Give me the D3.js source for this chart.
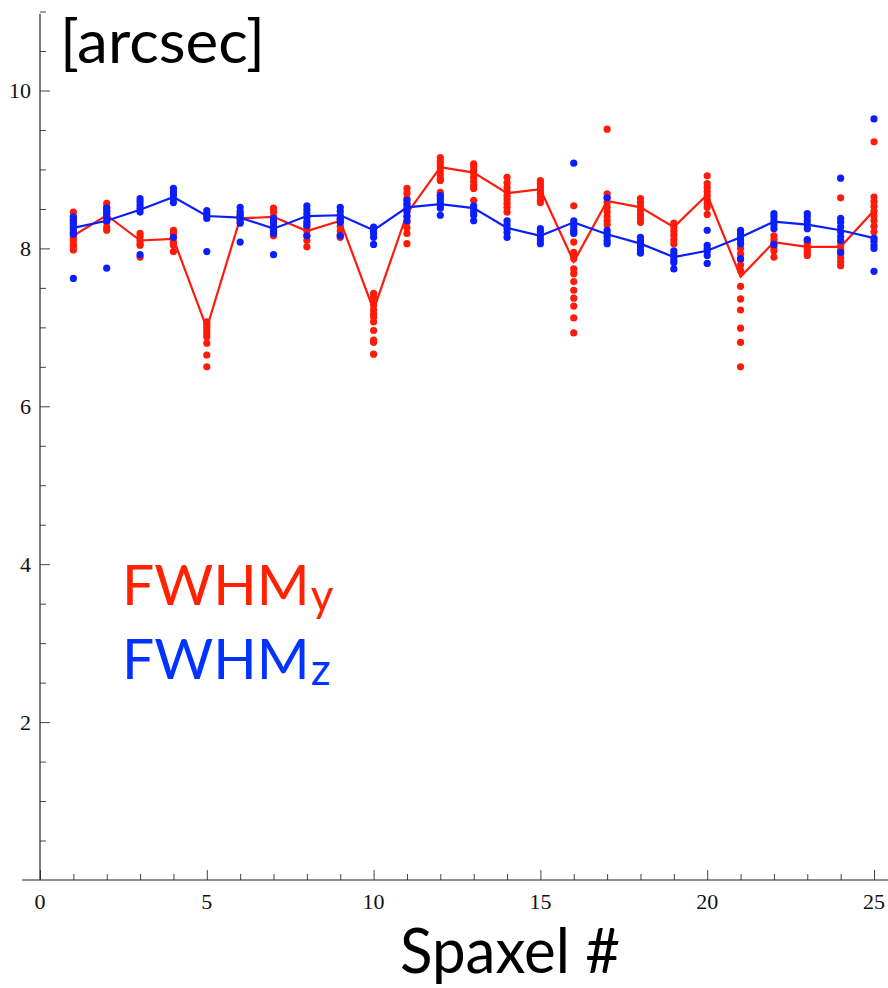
<!DOCTYPE html>
<html>
<head>
<meta charset="utf-8">
<script src="https://cdn.jsdelivr.net/npm/d3@7"></script>
<style>
html,body{margin:0;padding:0;background:#fff;}
svg{display:block;}
</style>
</head>
<body>
<svg id="chart" width="888" height="988"></svg>
<script>
// ---------- data ----------
const spaxels = d3.range(1, 26);

// FWHM_y (red) mean line
const meanY = [8.16, 8.42, 8.10, 8.12, 6.99, 8.38, 8.40, 8.22, 8.35, 7.22,
               8.44, 9.03, 8.96, 8.70, 8.75, 7.83, 8.60, 8.52, 8.27, 8.68,
               7.64, 8.08, 8.02, 8.02, 8.48];
// FWHM_z (blue) mean line
const meanZ = [8.26, 8.35, 8.49, 8.65, 8.41, 8.39, 8.25, 8.41, 8.42, 8.23,
               8.52, 8.56, 8.51, 8.26, 8.16, 8.33, 8.18, 8.06, 7.89, 7.97,
               8.14, 8.34, 8.30, 8.23, 8.13];

// individual FWHM_y measurements per spaxel
const pointsY = [
  [8.46, 8.40, 8.36, 8.33, 8.25, 8.18, 8.14, 8.10, 8.05, 8.02, 7.98],
  [8.57, 8.52, 8.47, 8.44, 8.40, 8.33, 8.27, 8.23],
  [8.19, 8.15, 8.10, 8.06, 8.04, 7.89],
  [8.23, 8.19, 8.14, 8.08, 8.04, 7.96],
  [7.07, 7.04, 7.00, 6.96, 6.92, 6.88, 6.80, 6.65, 6.50],
  [8.44, 8.40, 8.37, 8.33],
  [8.51, 8.46, 8.40, 8.34, 8.27, 8.21, 8.16],
  [8.32, 8.27, 8.22, 8.16, 8.10, 8.02],
  [8.38, 8.33, 8.28, 8.22, 8.17, 8.14],
  [7.43, 7.38, 7.33, 7.28, 7.22, 7.17, 7.13, 7.07, 6.96, 6.84, 6.81, 6.66],
  [8.76, 8.70, 8.63, 8.56, 8.48, 8.40, 8.33, 8.26, 8.19, 8.06],
  [9.15, 9.11, 9.07, 9.03, 8.98, 8.93, 8.88, 8.86, 8.71, 8.67],
  [9.07, 9.03, 8.99, 8.95, 8.90, 8.85, 8.80, 8.76, 8.61],
  [8.90, 8.83, 8.77, 8.72, 8.67, 8.62, 8.57, 8.52, 8.46],
  [8.86, 8.82, 8.78, 8.74, 8.70, 8.65, 8.61, 8.58],
  [8.54, 8.21, 8.08, 7.95, 7.91, 7.87, 7.74, 7.68, 7.58, 7.47, 7.37, 7.27, 7.12, 6.93],
  [9.51, 8.69, 8.64, 8.58, 8.52, 8.46, 8.40, 8.35, 8.30],
  [8.63, 8.58, 8.53, 8.48, 8.43, 8.38, 8.33],
  [8.32, 8.27, 8.22, 8.17, 8.11, 8.06],
  [8.92, 8.82, 8.77, 8.72, 8.67, 8.62, 8.57, 8.52, 8.43],
  [8.06, 8.00, 7.93, 7.86, 7.79, 7.72, 7.52, 7.36, 7.22, 6.99, 6.81, 6.50],
  [8.16, 8.11, 8.06, 8.01, 7.97, 7.89],
  [8.10, 8.06, 8.02, 7.98, 7.94, 7.91],
  [8.64, 8.08, 8.03, 7.98, 7.93, 7.88, 7.83, 7.78],
  [9.35, 8.65, 8.59, 8.53, 8.47, 8.41, 8.35, 8.28, 8.21]
];

// individual FWHM_z measurements per spaxel
const pointsZ = [
  [8.40, 8.36, 8.32, 8.28, 8.24, 8.20, 8.18, 7.62],
  [8.51, 8.47, 8.43, 8.39, 8.35, 7.75],
  [8.63, 8.59, 8.55, 8.51, 8.46, 7.92],
  [8.76, 8.72, 8.68, 8.63, 8.58, 8.14],
  [8.48, 8.44, 8.41, 8.38, 7.96],
  [8.52, 8.47, 8.42, 8.37, 8.32, 8.08],
  [8.38, 8.33, 8.28, 8.23, 8.19, 7.92],
  [8.54, 8.49, 8.44, 8.39, 8.34, 8.29, 8.16],
  [8.52, 8.47, 8.42, 8.37, 8.33, 8.16],
  [8.27, 8.23, 8.19, 8.14, 8.05],
  [8.61, 8.56, 8.51, 8.46, 8.41, 8.35],
  [8.67, 8.63, 8.59, 8.55, 8.51, 8.42],
  [8.54, 8.50, 8.46, 8.42, 8.35],
  [8.35, 8.30, 8.25, 8.20, 8.14],
  [8.25, 8.21, 8.16, 8.11, 8.06],
  [9.08, 8.35, 8.31, 8.27, 8.23, 8.19],
  [8.64, 8.23, 8.19, 8.15, 8.10, 8.06],
  [8.14, 8.10, 8.06, 8.02, 7.98, 7.94],
  [7.97, 7.93, 7.89, 7.85, 7.82, 7.74],
  [8.23, 8.04, 8.00, 7.96, 7.91, 7.81],
  [8.23, 8.19, 8.15, 8.11, 8.06, 7.87],
  [8.44, 8.40, 8.35, 8.30, 8.25, 8.05],
  [8.44, 8.40, 8.35, 8.30, 8.25, 8.11],
  [8.89, 8.38, 8.33, 8.27, 8.21, 8.15, 8.10, 7.95],
  [9.64, 8.13, 8.09, 8.04, 8.00, 7.71]
];

const xTickLabels = [0, 5, 10, 15, 20, 25];
const yTickLabels = [2, 4, 6, 8, 10];
const xMinorTicks = d3.range(0, 26, 1);
const yMinorTicks = d3.range(0.5, 11.01, 0.5);

// ---------- drawing ----------
const RED = "#ff1a0a";
const BLUE = "#0a1eff";
const svg = d3.select("#chart");

const x = d3.scaleLinear().domain([0, 25]).range([40, 874]);
const y = d3.scaleLinear().domain([0, 10]).range([880, 90.5]);

const axisColor = "#222";
const tickColor = "#444";

// x axis: line + inward ticks
const xAxis = d3.axisTop(x).tickValues(xMinorTicks).tickSizeInner(6).tickSizeOuter(0).tickFormat("");
const gx = svg.append("g").attr("transform", `translate(0,${y(0)})`).call(xAxis);
gx.select(".domain").remove();
gx.selectAll(".tick line").attr("stroke", tickColor)
  .attr("y2", d => (d % 5 === 0 ? -10 : -6));
svg.append("line").attr("x1", 22).attr("x2", 888).attr("y1", y(0)).attr("y2", y(0))
  .attr("stroke", axisColor).attr("stroke-width", 1.2);
svg.append("g").selectAll("text").data(xTickLabels).join("text")
  .attr("x", d => x(d)).attr("y", y(0) + 29)
  .attr("text-anchor", "middle")
  .attr("font-family", "'Liberation Serif', 'DejaVu Serif', serif")
  .attr("font-size", 22).attr("fill", "#111")
  .text(d => d);

// y axis
const yAxis = d3.axisRight(y).tickValues(yMinorTicks).tickSizeInner(6).tickSizeOuter(0).tickFormat("");
const gy = svg.append("g").attr("transform", `translate(${x(0)},0)`).call(yAxis);
gy.select(".domain").remove();
gy.selectAll(".tick line").attr("stroke", tickColor)
  .attr("x2", d => (Math.abs(d % 2) < 1e-9 ? 10 : 6));
svg.append("line").attr("x1", x(0)).attr("x2", x(0)).attr("y1", y(0)).attr("y2", y(10.97))
  .attr("stroke", axisColor).attr("stroke-width", 1.2);
svg.append("g").selectAll("text").data(yTickLabels).join("text")
  .attr("x", 31).attr("y", d => y(d) + 7.5)
  .attr("text-anchor", "end")
  .attr("font-family", "'Liberation Serif', 'DejaVu Serif', serif")
  .attr("font-size", 22).attr("fill", "#111")
  .text(d => d);

// lines and points
const lineGen = d3.line().x((d, i) => x(spaxels[i])).y(d => y(d));

function flatPoints(arr) {
  const out = [];
  arr.forEach((vals, i) => vals.forEach(v => out.push({s: spaxels[i], v})));
  return out;
}

svg.append("path").datum(meanY).attr("d", lineGen)
  .attr("fill", "none").attr("stroke", RED).attr("stroke-width", 2.2);
svg.append("g").selectAll("circle").data(flatPoints(pointsY)).join("circle")
  .attr("cx", d => x(d.s)).attr("cy", d => y(d.v)).attr("r", 3.6).attr("fill", RED);

svg.append("path").datum(meanZ).attr("d", lineGen)
  .attr("fill", "none").attr("stroke", BLUE).attr("stroke-width", 2.2);
svg.append("g").selectAll("circle").data(flatPoints(pointsZ)).join("circle")
  .attr("cx", d => x(d.s)).attr("cy", d => y(d.v)).attr("r", 3.6).attr("fill", BLUE);

// labels
const bigFont = "Lato, 'Open Sans', 'DejaVu Sans', sans-serif";
svg.append("text").attr("x", 60).attr("y", 63)
  .attr("font-family", bigFont).attr("font-size", 60).attr("fill", "#000")
  .attr("textLength", 205).attr("lengthAdjust", "spacingAndGlyphs")
  .text("[arcsec]");

svg.append("text").attr("x", 400).attr("y", 973)
  .attr("font-family", bigFont).attr("font-size", 62).attr("fill", "#000")
  .attr("textLength", 220).attr("lengthAdjust", "spacingAndGlyphs")
  .text("Spaxel #");

const legendItems = [
  {main: "FWHM", sub: "y", color: "#ff2200", base: 605},
  {main: "FWHM", sub: "z", color: "#0033ff", base: 679}
];
const leg = svg.append("g");
legendItems.forEach(it => {
  const t = leg.append("text").attr("x", 122).attr("y", it.base)
    .attr("font-family", bigFont).attr("font-size", 57).attr("fill", it.color);
  t.append("tspan").text(it.main);
  t.append("tspan").attr("font-size", 44).attr("dx", 1).attr("dy", 6).text(it.sub);
});
</script>
</body>
</html>
